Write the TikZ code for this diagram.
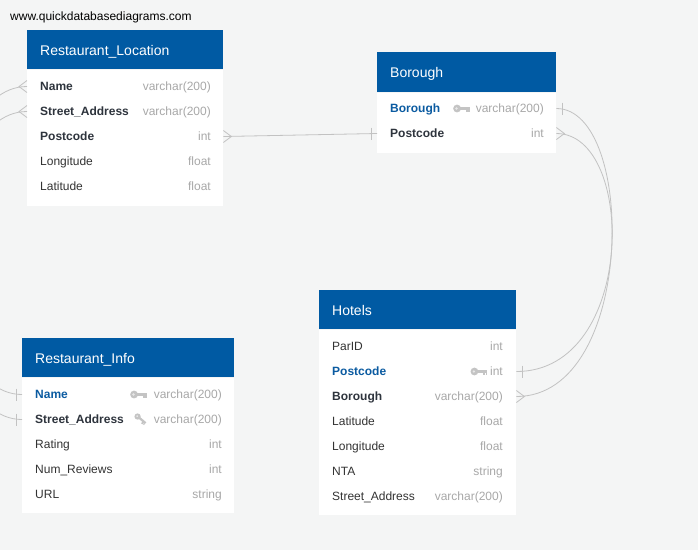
\documentclass[tikz,border=0pt]{standalone}
\usepackage{fontspec}
\setmainfont{Liberation Sans}
\usetikzlibrary{calc}
\usetikzlibrary{positioning}

\definecolor{canvas}{HTML}{F4F5F5}
\definecolor{headblue}{HTML}{005AA3}
\definecolor{keyblue}{HTML}{0B5BA1}
\definecolor{namedark}{HTML}{2E343D}
\definecolor{nametxt}{HTML}{333333}
\definecolor{typegrey}{HTML}{A8A8A8}
\definecolor{linkgrey}{HTML}{C2C2C2}
\definecolor{icongrey}{HTML}{C4C4C4}

% crow's foot (many) and bar (one) at a table edge
\newcommand{\crowfoot}[2]{\draw[link] ($(#1)+(0,-6)$) -- ($(#1)+(#2,0)$) -- ($(#1)+(0,6)$);}
\newcommand{\onebar}[2]{\draw[link] ($(#1)+(#2,-6)$) -- ($(#1)+(#2,6)$);}

\tikzset{
    tblhead/.style = {fill=headblue, anchor=north west, inner sep=0, minimum height=39pt},
    tblbody/.style = {fill=white, anchor=north west, inner sep=0},
    tbltitle/.style = {anchor=west, inner sep=0, text height=10pt, text depth=0pt, text=white, font=\fontsize{14}{16}\selectfont},
    field/.style = {anchor=west, inner sep=0, text height=8.6pt, text depth=0pt, text=nametxt, font=\fontsize{12}{14}\selectfont},
    fbold/.style = {field, text=namedark, font=\fontsize{12}{14}\selectfont\bfseries},
    fkey/.style = {fbold, text=keyblue},
    ftype/.style = {field, anchor=east, text=typegrey},
    link/.style = {draw=linkgrey, line width=0.8pt},
    keyicon/.pic = {
        \fill[icongrey] (0,0) circle (3.9);
        \fill[white!60!icongrey] (-0.6,0) circle (1.3);
        \fill[icongrey] (3,-1.5) rectangle (13,1.3);
        \fill[icongrey] (8.8,1) rectangle (10.8,3.6);
        \fill[icongrey] (11.3,1) rectangle (13,3);
    },
}

\begin{document}
\begin{tikzpicture}[x=1pt, y=-1pt]
    \clip (0,0) rectangle (698,550);
    \fill[canvas] (0,0) rectangle (698,550);

    \node[anchor=base west, inner sep=0, font=\fontsize{12}{14}\selectfont] (site) at (10,20.5) {www.quickdatabasediagrams.com};

    % Restaurant_Location
    \node[tblhead, minimum width=196pt] (rl-head) at (27,30) {};
    \node[tblbody, minimum width=196pt, minimum height=136pt] (rl-body) at (rl-head.south west) {};
    \node[tbltitle] (rl-title) at ([xshift=13pt, yshift=-0.5pt]rl-head.west) {Restaurant\_Location};
    \node[fbold] (rl-name) at (40,86.5) {Name};
    \node[ftype] (rl-name-t) at (211,86.5) {varchar(200)};
    \node[fbold] (rl-street) at (40,111.5) {Street\_Address};
    \node[ftype] (rl-street-t) at (211,111.5) {varchar(200)};
    \node[fbold] (rl-post) at (40,136.5) {Postcode};
    \node[ftype] (rl-post-t) at (211,136.5) {int};
    \node[field] (rl-long) at (40,161.5) {Longitude};
    \node[ftype] (rl-long-t) at (211,161.5) {float};
    \node[field] (rl-lat) at (40,186.5) {Latitude};
    \node[ftype] (rl-lat-t) at (211,186.5) {float};

    % Borough
    \node[tblhead, minimum width=179pt, minimum height=40pt] (bo-head) at (377,52) {};
    \node[tblbody, minimum width=179pt, minimum height=60pt] (bo-body) at (bo-head.south west) {};
    \node[tbltitle] (bo-title) at ([xshift=13pt, yshift=-0.5pt]bo-head.west) {Borough};
    \node[fkey] (bo-boro) at (390,108.5) {Borough};
    \node[ftype] (bo-boro-t) at (544,108.5) {varchar(200)};
    \pic at ([xshift=-18.5pt]bo-boro-t.west) {keyicon};
    \node[fbold] (bo-post) at (390,133.5) {Postcode};
    \node[ftype] (bo-post-t) at (544,133.5) {int};

    % Restaurant_Info
    \node[tblhead, minimum width=212pt] (ri-head) at (22,338) {};
    \node[tblbody, minimum width=212pt, minimum height=135pt] (ri-body) at (ri-head.south west) {};
    \node[tbltitle] (ri-title) at ([xshift=13pt, yshift=-0.5pt]ri-head.west) {Restaurant\_Info};
    \node[fkey] (ri-name) at (35,394.5) {Name};
    \node[ftype] (ri-name-t) at (222,394.5) {varchar(200)};
    \pic at ([xshift=-19.5pt]ri-name-t.west) {keyicon};
    \node[fbold] (ri-street) at (35,419.5) {Street\_Address};
    \node[ftype] (ri-street-t) at (222,419.5) {varchar(200)};
    \pic[rotate=-40, scale=0.8] at ([xshift=-16pt, yshift=3pt]ri-street-t.west) {keyicon};
    \node[field] (ri-rating) at (35,444.5) {Rating};
    \node[ftype] (ri-rating-t) at (222,444.5) {int};
    \node[field] (ri-reviews) at (35,469.5) {Num\_Reviews};
    \node[ftype] (ri-reviews-t) at (222,469.5) {int};
    \node[field] (ri-url) at (35,494.5) {URL};
    \node[ftype] (ri-url-t) at (222,494.5) {string};

    % Hotels
    \node[tblhead, minimum width=197pt] (ho-head) at (319,290) {};
    \node[tblbody, minimum width=197pt, minimum height=185pt] (ho-body) at (ho-head.south west) {};
    \node[tbltitle] (ho-title) at ([xshift=13pt, yshift=-0.5pt]ho-head.west) {Hotels};
    \node[field] (ho-parid) at (332,346.5) {ParID};
    \node[ftype] (ho-parid-t) at (503,346.5) {int};
    \node[fkey] (ho-post) at (332,371.5) {Postcode};
    \node[ftype] (ho-post-t) at (503,371.5) {int};
    \pic at ([xshift=-15.5pt]ho-post-t.west) {keyicon};
    \node[fbold] (ho-boro) at (332,396.5) {Borough};
    \node[ftype] (ho-boro-t) at (503,396.5) {varchar(200)};
    \node[field] (ho-lat) at (332,421.5) {Latitude};
    \node[ftype] (ho-lat-t) at (503,421.5) {float};
    \node[field] (ho-long) at (332,446.5) {Longitude};
    \node[ftype] (ho-long-t) at (503,446.5) {float};
    \node[field] (ho-nta) at (332,471.5) {NTA};
    \node[ftype] (ho-nta-t) at (503,471.5) {string};
    \node[field] (ho-street) at (332,496.5) {Street\_Address};
    \node[ftype] (ho-street-t) at (503,496.5) {varchar(200)};

    % edge points of the linked rows
    \coordinate (rl-name-w) at (rl-body.west |- rl-name);
    \coordinate (rl-street-w) at (rl-body.west |- rl-street);
    \coordinate (rl-post-e) at (rl-body.east |- rl-post);
    \coordinate (bo-post-w) at (bo-body.west |- bo-post);
    \coordinate (bo-boro-e) at (bo-body.east |- bo-boro);
    \coordinate (bo-post-e) at (bo-body.east |- bo-post);
    \coordinate (ri-name-w) at (ri-body.west |- ri-name);
    \coordinate (ri-street-w) at (ri-body.west |- ri-street);
    \coordinate (ho-post-e) at (ho-body.east |- ho-post);
    \coordinate (ho-boro-e) at (ho-body.east |- ho-boro);

    % links
    \draw[link] (rl-post-e) -- (bo-post-w);
    \draw[link] (rl-name-w) .. controls +(-100,0) and +(-100,0) .. (ri-name-w);
    \draw[link] (rl-street-w) .. controls +(-100,0) and +(-100,0) .. (ri-street-w);
    \draw[link] (bo-boro-e) .. controls +(80,0) and +(120,0) .. (ho-boro-e);
    \draw[link] (bo-post-e) .. controls +(80,0) and +(120,0) .. (ho-post-e);

    \crowfoot{rl-name-w}{-8}
    \crowfoot{rl-street-w}{-8}
    \crowfoot{rl-post-e}{8}
    \onebar{bo-post-w}{-6}
    \onebar{bo-boro-e}{6}
    \crowfoot{bo-post-e}{8}
    \onebar{ri-name-w}{-6}
    \onebar{ri-street-w}{-6}
    \onebar{ho-post-e}{6}
    \crowfoot{ho-boro-e}{8}
\end{tikzpicture}
\end{document}
